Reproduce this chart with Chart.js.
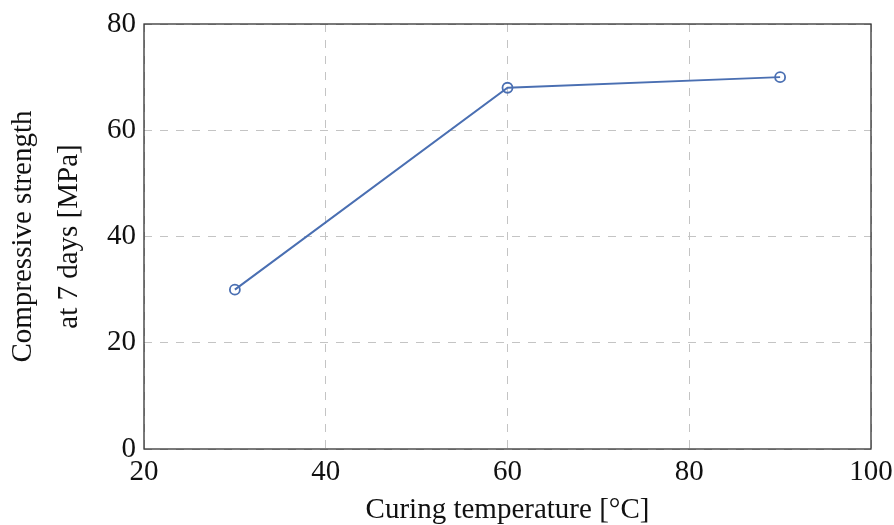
<!DOCTYPE html>
<html>
<head>
<meta charset="utf-8">
<script src="https://cdn.jsdelivr.net/npm/chart.js@4"></script>
<style>
  body { margin: 0; background: #fff; }
  #chart { display: block; }
</style>
</head>
<body>
<canvas id="chart" width="894" height="525"></canvas>
<script>
// Data
const temperatures = [30, 60, 90];
const strengths = [30, 68, 70];
const xTicks = [20, 40, 60, 80, 100];
const yTicks = [0, 20, 40, 60, 80];

const serif = "'Liberation Serif', 'DejaVu Serif', serif";
const lineColor = 'rgb(74, 111, 178)';
const textColor = '#111';

const ctx = document.getElementById('chart').getContext('2d');
new Chart(ctx, {
    type: 'line',
    data: {
        datasets: [{
            data: temperatures.map((t, i) => ({ x: t, y: strengths[i] })),
            borderColor: lineColor,
            backgroundColor: 'rgba(0,0,0,0)',
            borderWidth: 2,
            pointStyle: 'circle',
            pointRadius: 5,
            pointBorderWidth: 1.8,
            pointBackgroundColor: 'rgba(0,0,0,0)',
            pointBorderColor: lineColor,
            tension: 0
        }]
    },
    options: {
        responsive: false,
        animation: false,
        layout: { padding: { top: 24, right: 23, bottom: 0, left: 0 } },
        plugins: {
            legend: { display: false },
            tooltip: { enabled: false }
        },
        scales: {
            x: {
                type: 'linear',
                min: 20,
                max: 100,
                afterBuildTicks: axis => { axis.ticks = xTicks.map(v => ({ value: v })); },
                afterFit: axis => {
                    axis.height = 76;
                    axis.paddingLeft = 0;
                    axis.paddingRight = 0;
                },
                grid: { color: '#c4c4c4', lineWidth: 1, drawTicks: false },
                border: { display: false, dash: [8, 8] },
                ticks: {
                    color: textColor,
                    font: { family: serif, size: 29 },
                    padding: 6,
                    maxRotation: 0
                },
                title: {
                    display: true,
                    text: 'Curing temperature [°C]',
                    color: textColor,
                    font: { family: serif, size: 29, lineHeight: 1.0 },
                    padding: { top: 8, bottom: 0 }
                }
            },
            y: {
                type: 'linear',
                min: 0,
                max: 80,
                afterBuildTicks: axis => { axis.ticks = yTicks.map(v => ({ value: v })); },
                afterFit: axis => {
                    axis.width = 144;
                    axis.paddingTop = 0;
                    axis.paddingBottom = 0;
                },
                grid: { color: '#c4c4c4', lineWidth: 1, drawTicks: false },
                border: { display: false, dash: [8, 8] },
                ticks: {
                    color: textColor,
                    font: { family: serif, size: 29 },
                    padding: 8
                },
                title: {
                    display: true,
                    text: ['Compressive strength', 'at 7 days [MPa]'],
                    color: textColor,
                    font: { family: serif, size: 29, lineHeight: 1.6 },
                    padding: { top: 0, bottom: 0 }
                }
            }
        }
    },
    plugins: [{
        id: 'frame',
        afterDraw(chart) {
            const a = chart.chartArea;
            const c = chart.ctx;
            c.save();
            c.strokeStyle = '#333';
            c.lineWidth = 1.3;
            c.strokeRect(a.left, a.top, a.right - a.left, a.bottom - a.top);
            c.restore();
        }
    }]
});
</script>
</body>
</html>
